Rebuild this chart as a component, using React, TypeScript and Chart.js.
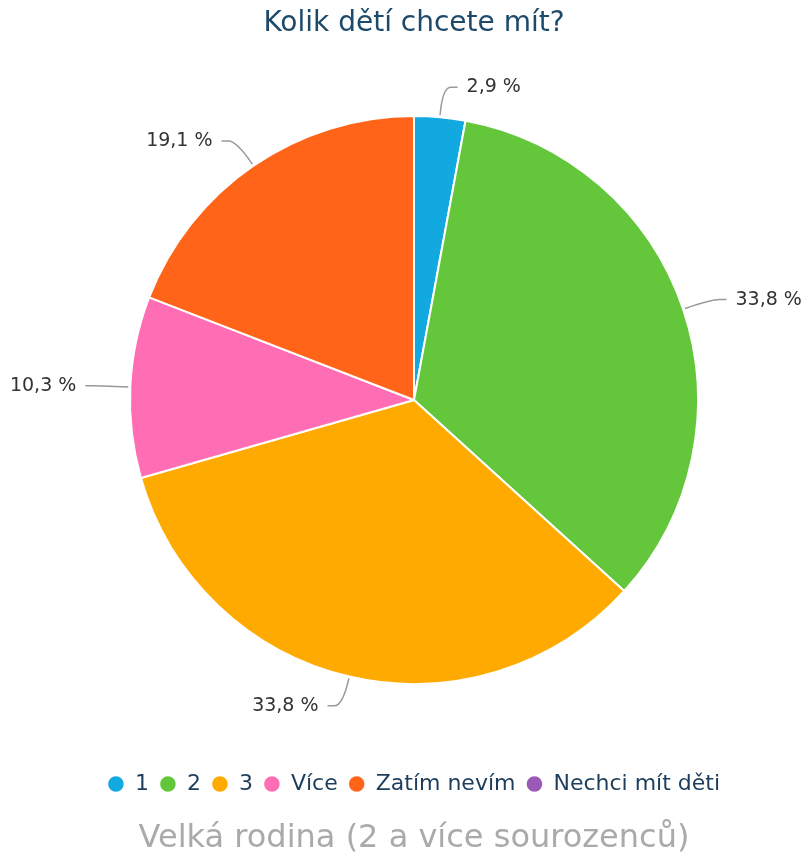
import React, { useEffect, useRef } from 'react';
import { Chart, registerables } from 'chart.js';
Chart.register(...registerables);

const TITLE = 'Kolik dětí chcete mít?';
const SUBTITLE = 'Velká rodina (2 a více sourozenců)';
const categories = ['1', '2', '3', 'Více', 'Zatím nevím', 'Nechci mít děti'];
const values = [2.9, 33.8, 33.8, 10.3, 19.1, 0];
const colors = ['#12a8e0', '#64c63b', '#ffaa00', '#ff6eb4', '#ff6419', '#9b59b6'];

const FONT = "'DejaVu Sans', 'Noto Sans', sans-serif";

const labelPlugin = {
  id: 'outLabels',
  afterDatasetsDraw(chart: any) {
    const ctx = chart.ctx;
    const meta = chart.getDatasetMeta(0);
    const data = chart.data.datasets[0].data;
    ctx.save();
    meta.data.forEach((arc: any, i: number) => {
      const v = data[i];
      if (!v) return;
      const { x, y, startAngle, endAngle, outerRadius } = arc.getProps(
        ['x', 'y', 'startAngle', 'endAngle', 'outerRadius'],
        true
      );
      const mid = (startAngle + endAngle) / 2;
      const cos = Math.cos(mid);
      const sin = Math.sin(mid);
      const dir = cos >= 0 ? 1 : -1;
      const x0 = x + cos * (outerRadius + 2);
      const y0 = y + sin * (outerRadius + 2);
      const x1 = x + cos * (outerRadius + 30);
      const y1 = y + sin * (outerRadius + 30);
      ctx.strokeStyle = '#9a9a9a';
      ctx.lineWidth = 1.5;
      ctx.beginPath();
      ctx.moveTo(x0, y0);
      ctx.quadraticCurveTo(x1, y1, x1 + dir * 8, y1);
      ctx.lineTo(x1 + dir * 15, y1);
      ctx.stroke();
      ctx.fillStyle = '#333333';
      ctx.font = `19px ${FONT}`;
      ctx.textAlign = dir > 0 ? 'left' : 'right';
      ctx.textBaseline = 'middle';
      ctx.fillText(v.toFixed(1).replace('.', ',') + ' %', x1 + dir * 24, y1);
    });
    ctx.restore();
  },
};

export default function App() {
  const ref = useRef<HTMLCanvasElement>(null);
  useEffect(() => {
    if (!ref.current) return;
    const chart = new Chart(ref.current, {
      type: 'pie',
      data: {
        labels: categories,
        datasets: [
          {
            data: values,
            backgroundColor: colors,
            borderColor: '#ffffff',
            borderWidth: 2,
            radius: 284,
          } as any,
        ],
      },
      options: {
        responsive: false,
        animation: false,
        layout: { padding: { left: 16 } },
        plugins: {
          tooltip: { enabled: false },
          title: {
            display: true,
            text: TITLE,
            color: '#1d4a6b',
            font: { size: 28, family: FONT, weight: 'normal', lineHeight: 1 },
            padding: { top: 2, bottom: 0 },
          },
          subtitle: {
            display: true,
            position: 'bottom',
            text: SUBTITLE,
            color: '#aaaaaa',
            font: { size: 32, family: FONT, weight: 'normal', lineHeight: 1 },
            padding: { top: 18, bottom: 3 },
          },
          legend: {
            position: 'bottom',
            labels: {
              usePointStyle: true,
              pointStyle: 'circle',
              boxWidth: 16,
              boxHeight: 11,
              padding: 11,
              color: '#1d3d5c',
              font: { size: 22, family: FONT },
              generateLabels: (c: any) =>
                (Chart as any).overrides.pie.plugins.legend.labels
                  .generateLabels(c)
                  .map((l: any) => ({ ...l, lineWidth: 0, strokeStyle: l.fillStyle })),
            },
          },
        },
      } as any,
      plugins: [labelPlugin],
    });
    return () => chart.destroy();
  }, []);
  return (
    <div>
      <canvas ref={ref} width={796} height={850} style={{ display: 'block' }} />
    </div>
  );
}
